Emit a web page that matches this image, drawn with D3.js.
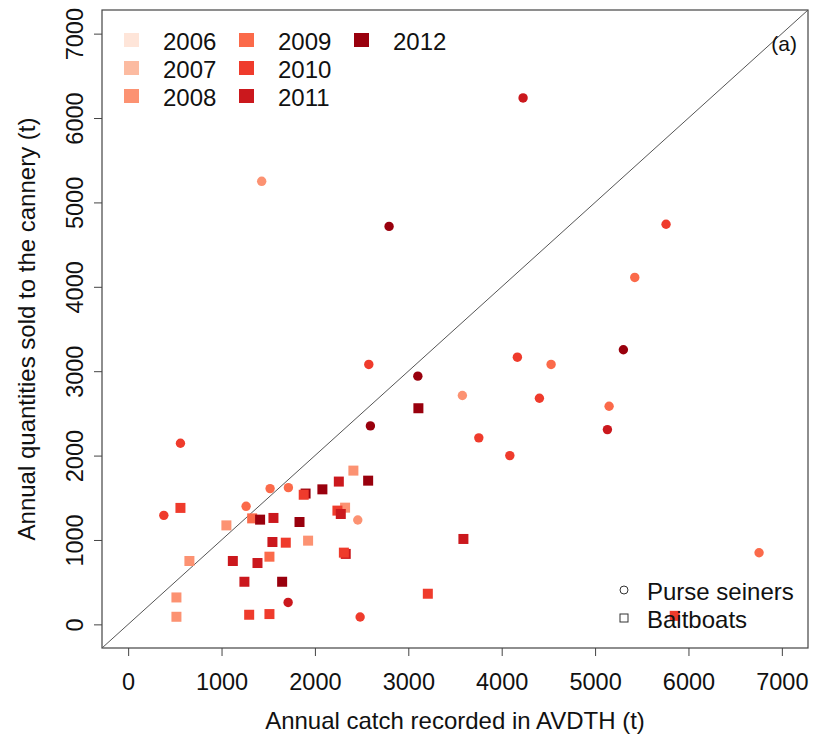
<!DOCTYPE html>
<html>
<head>
<meta charset="utf-8">
<script src="https://cdn.jsdelivr.net/npm/d3@7"></script>
<style>
  body { margin: 0; background: #fff; }
  text { font-family: "Liberation Sans", Arial, sans-serif; fill: #111; }
</style>
</head>
<body>
<div id="chart"></div>
<script>
// years and their colours (Reds)
const years = [2006, 2007, 2008, 2009, 2010, 2011, 2012];
const yearColors = ["#fee5d9", "#fcbba1", "#fc9272", "#fb6a4a", "#ef3b2c", "#cb181d", "#99000d"];

const ticks = [0, 1000, 2000, 3000, 4000, 5000, 6000, 7000];

// purse seiners (circles)
const psCatch = [4229, 2794, 1430, 5760, 5425, 5303, 4168, 4529, 4404, 5150, 5132, 4087, 6756,
                 2577, 3102, 3579, 2594, 3755, 560, 382, 1520, 1716, 1263, 1713, 2459, 2484];
const psSold = [6238, 4716, 5250, 4741, 4111, 3254, 3166, 3080, 2680, 2585, 2308, 2000, 849,
                3080, 2941, 2712, 2352, 2210, 2146, 1292, 1609, 1620, 1399, 260, 1237, 87];
const psYear = [2011, 2012, 2008, 2010, 2009, 2012, 2010, 2009, 2010, 2009, 2011, 2010, 2009,
                2010, 2012, 2008, 2012, 2010, 2010, 2010, 2009, 2009, 2009, 2011, 2008, 2010];

// baitboats (squares)
const bbCatch = [3108, 560, 1052, 1328, 1413, 1556, 1835, 1900, 1880, 2080, 2256, 2570, 2412,
                 2323, 2241, 2277, 1545, 1688, 1927, 656, 1121, 1385, 1513, 1245, 1649, 517,
                 517, 1296, 1513, 2330, 2310, 3590, 3209, 5853];
const bbSold = [2561, 1380, 1173, 1256, 1241, 1261, 1213, 1550, 1536, 1600, 1692, 1703, 1822,
                1383, 1348, 1308, 976, 968, 992, 751, 751, 727, 802, 505, 505, 319,
                90, 114, 122, 835, 850, 1012, 363, 101];
const bbYear = [2012, 2010, 2008, 2009, 2012, 2011, 2012, 2012, 2010, 2012, 2011, 2012, 2008,
                2008, 2010, 2011, 2011, 2010, 2008, 2008, 2011, 2011, 2009, 2011, 2012, 2008,
                2008, 2010, 2010, 2011, 2010, 2011, 2010, 2010];

const W = 813, H = 744;
const plot = {left: 102, right: 808, top: 10, bottom: 648};

const color = d3.scaleOrdinal().domain(years).range(yearColors);

const svg = d3.select("#chart").append("svg")
    .attr("width", W)
    .attr("height", H);

const x = d3.scaleLinear().domain([-280, 7280]).range([plot.left, plot.right]);
const y = d3.scaleLinear().domain([-280, 7280]).range([plot.bottom, plot.top]);

svg.append("clipPath").attr("id", "clip")
    .append("rect")
    .attr("x", plot.left).attr("y", plot.top)
    .attr("width", plot.right - plot.left).attr("height", plot.bottom - plot.top);

// X axis
const xAxis = svg.append("g")
    .attr("transform", `translate(0,${plot.bottom})`)
    .call(d3.axisBottom(x).tickValues(ticks).tickSize(8).tickPadding(17).tickFormat(d3.format("d")));
xAxis.select(".domain").remove();
xAxis.selectAll("line").attr("stroke", "#444");
xAxis.selectAll("text").style("font-size", "23.5px").attr("fill", "#111");

// Y axis (labels parallel to axis)
const yAxis = svg.append("g")
    .attr("transform", `translate(${plot.left},0)`)
    .call(d3.axisLeft(y).tickValues(ticks).tickSize(8).tickFormat(d3.format("d")));
yAxis.select(".domain").remove();
yAxis.selectAll("line").attr("stroke", "#444");
yAxis.selectAll("text")
    .style("font-size", "23.5px")
    .attr("fill", "#111")
    .attr("x", null).attr("dy", null)
    .attr("text-anchor", "middle")
    .attr("transform", "translate(-19,0) rotate(-90)")
    .attr("y", 0);

// plot box
svg.append("rect")
    .attr("x", plot.left).attr("y", plot.top)
    .attr("width", plot.right - plot.left).attr("height", plot.bottom - plot.top)
    .attr("fill", "none").attr("stroke", "#444").attr("stroke-width", 1.2);

// 1:1 line
svg.append("line")
    .attr("clip-path", "url(#clip)")
    .attr("x1", x(-280)).attr("y1", y(-280))
    .attr("x2", x(7280)).attr("y2", y(7280))
    .attr("stroke", "#555").attr("stroke-width", 1);

// points
const ps = psCatch.map((d, i) => ({x: d, y: psSold[i], year: psYear[i]}));
const bb = bbCatch.map((d, i) => ({x: d, y: bbSold[i], year: bbYear[i]}));

svg.append("g").selectAll("rect")
    .data(bb)
    .enter()
    .append("rect")
    .attr("x", d => x(d.x) - 5)
    .attr("y", d => y(d.y) - 5)
    .attr("width", 10)
    .attr("height", 10)
    .attr("fill", d => color(d.year));

svg.append("g").selectAll("circle")
    .data(ps)
    .enter()
    .append("circle")
    .attr("cx", d => x(d.x))
    .attr("cy", d => y(d.y))
    .attr("r", 4.7)
    .attr("fill", d => color(d.year));

// year legend
const leg = svg.append("g");
years.forEach((yr, i) => {
    const col = Math.floor(i / 3), row = i % 3;
    const lx = 124 + col * 115, ly = 40 + row * 28;
    leg.append("rect")
        .attr("x", lx).attr("y", ly - 7)
        .attr("width", 15).attr("height", 14)
        .attr("fill", color(yr));
    leg.append("text")
        .attr("x", lx + 39).attr("y", ly + 1)
        .attr("dy", "0.36em")
        .style("font-size", "24px")
        .text(yr);
});

svg.append("text")
    .attr("x", 797).attr("y", 43)
    .attr("dy", "0.36em")
    .attr("text-anchor", "end")
    .style("font-size", "21px")
    .text("(a)");

// gear legend
const gear = svg.append("g");
gear.append("circle")
    .attr("cx", 624).attr("cy", 590).attr("r", 4)
    .attr("fill", "none").attr("stroke", "#333").attr("stroke-width", 1);
gear.append("rect")
    .attr("x", 620).attr("y", 614).attr("width", 8).attr("height", 8)
    .attr("fill", "none").attr("stroke", "#333").attr("stroke-width", 1);
gear.append("text").attr("x", 647).attr("y", 591).attr("dy", "0.36em")
    .style("font-size", "24px").text("Purse seiners");
gear.append("text").attr("x", 647).attr("y", 619).attr("dy", "0.36em")
    .style("font-size", "24px").text("Baitboats");

// axis titles
svg.append("text")
    .attr("x", (plot.left + plot.right) / 2).attr("y", 729)
    .attr("text-anchor", "middle")
    .style("font-size", "24px")
    .text("Annual catch recorded in AVDTH (t)");

svg.append("text")
    .attr("transform", `translate(26,${(plot.top + plot.bottom) / 2}) rotate(-90)`)
    .attr("text-anchor", "middle")
    .attr("dy", "0.36em")
    .style("font-size", "24px")
    .text("Annual quantities sold to the cannery (t)");
</script>
</body>
</html>
